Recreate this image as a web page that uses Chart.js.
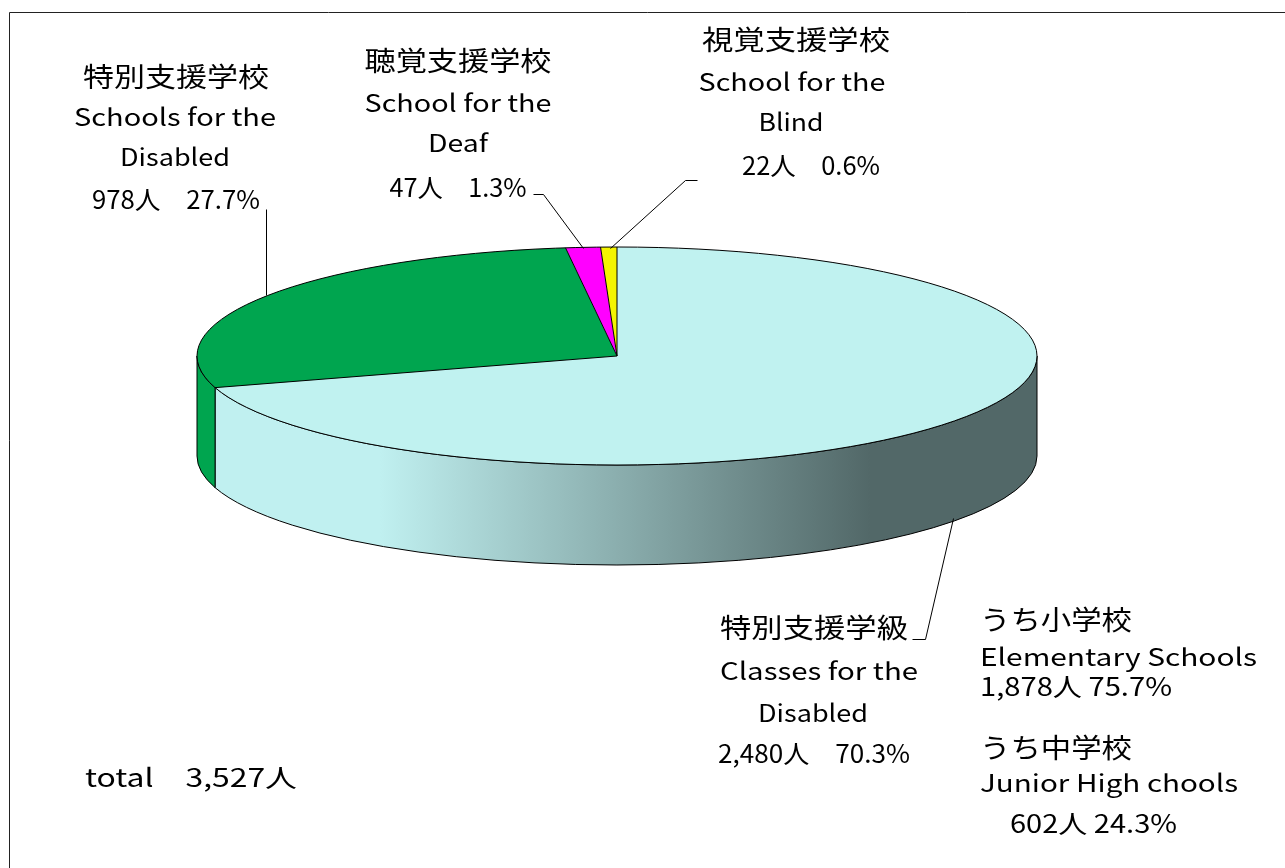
<!DOCTYPE html>
<html>
<head>
<meta charset="utf-8">
<script src="https://cdn.jsdelivr.net/npm/chart.js@4/dist/chart.umd.min.js"></script>
<style>
  body { margin: 0; background: #fff; }
  canvas { display: block; }
</style>
</head>
<body>
<canvas id="pieChart" width="1285" height="868"></canvas>
<script>
// data
const categories = ["特別支援学級", "特別支援学校", "聴覚支援学校", "視覚支援学校"];
const categoriesEn = [
	["Classes for the", "Disabled"],
	["Schools for the", "Disabled"],
	["School for the", "Deaf"],
	["School for the", "Blind"],
];
const students = [2480, 978, 47, 22];

// breakdown of the classes (first slice)
const breakdownNames = ["うち小学校", "うち中学校"];
const breakdownEn = ["Elementary Schools", "Junior High chools"];
const breakdownStudents = [1878, 602];

const sliceColors = ["#C0F2F0", "#00A54F", "#FF00FF", "#F4F400"];

// ellipse geometry of the 3d pie
const CX = 617, CY = 356, RX = 420, RY = 109, DEPTH = 100;
const FONT = '"Noto Sans CJK JP", "Noto Sans", sans-serif';

const total = students.reduce((a, b) => a + b, 0);
const fmt = (n) => n.toLocaleString("en-US");
const pct = (v, t) => ((v / t) * 100).toFixed(1) + "%";

// label lines: [text, x, y, width, size, align]
function labelLines(i, x, ys, widths) {
	const lines = [categories[i], categoriesEn[i][0], categoriesEn[i][1], fmt(students[i]) + "人\u3000" + pct(students[i], total)];
	const sizes = [27, 24, 24, 25];
	return lines.map((t, k) => [t, x[k], ys[k], widths[k], sizes[k], "center"]);
}

const labels = [
	...labelLines(0, [814, 819, 813, 814], [628, 671, 713, 753], [188, 198, 110, 192]),
	...labelLines(1, [176, 175, 175, 176], [77, 117, 157, 199], [186, 202, 110, 168]),
	...labelLines(2, [458, 458, 458, 458], [61, 103, 143, 187], [187, 187, 60, 137]),
	...labelLines(3, [796, 792, 791, 811], [40, 82, 122, 165], [188, 187, 65, 138]),
	[breakdownNames[0], 980, 620, 152, 27, "left"],
	[breakdownEn[0], 980, 657, 277, 24, "left"],
	[fmt(breakdownStudents[0]) + "人 " + pct(breakdownStudents[0], students[0]), 980, 686, 192, 25, "left"],
	[breakdownNames[1], 980, 748, 152, 27, "left"],
	[breakdownEn[1], 980, 783, 258, 24, "left"],
	[fmt(breakdownStudents[1]) + "人 " + pct(breakdownStudents[1], students[0]), 1010, 823, 167, 25, "left"],
	["total\u3000" + fmt(total) + "人", 85, 777, 212, 25, "left"],
];

const leaders = [
	[[912, 639], [925, 639], [953, 518]],
	[[266, 209], [266, 295]],
	[[533, 194], [543, 194], [583, 248]],
	[[697, 180], [685, 180], [610, 248]],
];

function fitText(ctx, text, x, y, w, size, align) {
	ctx.font = size + "px " + FONT;
	const m = ctx.measureText(text).width;
	ctx.save();
	ctx.translate(x, y);
	ctx.scale(w / m, 1);
	ctx.textAlign = align;
	ctx.textBaseline = "middle";
	ctx.fillText(text, 0, 0);
	ctx.restore();
}

const pie3d = {
	id: "pie3d",
	beforeDatasetsDraw(chart) {
		const ctx = chart.ctx;
		const arcs = chart.getDatasetMeta(0).data;
		// front side walls
		const grad = ctx.createLinearGradient(380, 0, 870, 0);
		grad.addColorStop(0, "#C0F0F0");
		grad.addColorStop(1, "#526868");
		arcs.forEach((arc, i) => {
			const s = arc.startAngle, e = arc.endAngle;
			[[0, Math.PI], [2 * Math.PI, 3 * Math.PI]].forEach(([lo, hi]) => {
				const a = Math.max(s, lo), b = Math.min(e, hi);
				if (b <= a) return;
				ctx.beginPath();
				ctx.ellipse(CX, CY, RX, RY, 0, a, b);
				ctx.ellipse(CX, CY + DEPTH, RX, RY, 0, b, a, true);
				ctx.closePath();
				ctx.fillStyle = i === 0 ? grad : sliceColors[i];
				ctx.fill();
				ctx.strokeStyle = "#000";
				ctx.lineWidth = 1;
				ctx.stroke();
			});
		});
		// squash the library's circle into the top ellipse
		const a0 = arcs[0];
		const r = a0.outerRadius;
		ctx.save();
		ctx.translate(CX, CY);
		ctx.scale(RX / r, RY / r);
		ctx.translate(-a0.x, -a0.y);
	},
	afterDatasetsDraw(chart) {
		const ctx = chart.ctx;
		ctx.restore();
		const arcs = chart.getDatasetMeta(0).data;
		ctx.strokeStyle = "#000";
		ctx.lineWidth = 1;
		ctx.beginPath();
		ctx.ellipse(CX, CY, RX, RY, 0, 0, 2 * Math.PI);
		ctx.stroke();
		arcs.forEach((arc) => {
			ctx.beginPath();
			ctx.moveTo(CX, CY);
			ctx.lineTo(CX + RX * Math.cos(arc.startAngle), CY + RY * Math.sin(arc.startAngle));
			ctx.stroke();
		});
	},
	afterDraw(chart) {
		const ctx = chart.ctx;
		// frame (only left and top edges show)
		ctx.strokeStyle = "#222";
		ctx.lineWidth = 1;
		ctx.beginPath();
		ctx.moveTo(9.5, 868);
		ctx.lineTo(9.5, 12.5);
		ctx.lineTo(1285, 12.5);
		ctx.stroke();
		// leader lines
		ctx.strokeStyle = "#000";
		leaders.forEach((pts) => {
			ctx.beginPath();
			pts.forEach(([x, y], k) => (k ? ctx.lineTo(x + 0.5, y + 0.5) : ctx.moveTo(x + 0.5, y + 0.5)));
			ctx.stroke();
		});
		ctx.fillStyle = "#000";
		labels.forEach(([t, x, y, w, size, align]) => fitText(ctx, t, x, y, w, size, align));
	},
};

const ctx = document.getElementById("pieChart").getContext("2d");
new Chart(ctx, {
	type: "pie",
	data: {
		labels: categories,
		datasets: [
			{
				data: students,
				backgroundColor: sliceColors,
				borderWidth: 0,
				hoverOffset: 0,
				clip: false,
			},
		],
	},
	options: {
		responsive: false,
		animation: false,
		events: [],
		layout: { padding: 0 },
		plugins: {
			legend: { display: false },
			tooltip: { enabled: false },
		},
	},
	plugins: [pie3d],
});
</script>
</body>
</html>
